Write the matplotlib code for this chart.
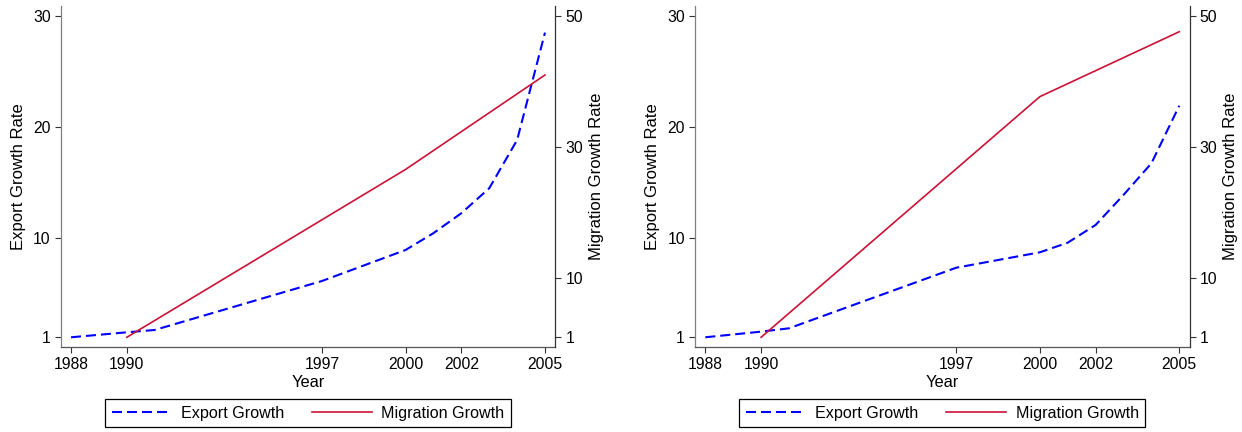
import matplotlib.pyplot as plt

plt.rcParams['font.family'] = ['Liberation Sans', 'DejaVu Sans']
plt.rcParams['font.size'] = 11

# export index by year, two samples
years = [1988, 1990, 1991, 1997, 2000, 2001, 2002, 2003, 2004, 2005]
export_a = [1.0, 1.45, 1.66, 6.08, 8.88, 10.4, 12.2, 14.45, 18.8, 28.5]
export_b = [1.0, 1.51, 1.81, 7.28, 8.67, 9.54, 11.14, 13.85, 16.7, 21.9]

# migration index, census years only
census_years = [1990, 2000, 2005]
migration_a = [1.0, 26.6, 41.0]
migration_b = [1.0, 37.7, 47.6]

year_ticks = [1988, 1990, 1997, 2000, 2002, 2005]
export_ticks = [1, 10, 20, 30]
migration_ticks = [1, 10, 30, 50]

BLUE = '#0000ff'
RED = '#cc1236'
EXP_LIM = (0.125, 30.9)


def to_migration_scale(v):
    # left axis 1..30 lines up with right axis 1..50
    return 1 + (v - 1) * 49.0 / 29.0


def draw_panel(ax, exports, migration):
    ax2 = ax.twinx()
    l1, = ax.plot(years, exports, color=BLUE, lw=1.5,
                  linestyle=(0, (4.8, 2.4)), label='Export Growth')
    l2, = ax2.plot(census_years, migration, color=RED, lw=1.2,
                   label='Migration Growth')

    ax.set_xlim(1987.63, 2005.37)
    ax.set_ylim(*EXP_LIM)
    ax2.set_ylim(to_migration_scale(EXP_LIM[0]), to_migration_scale(EXP_LIM[1]))

    ax.set_xticks(year_ticks)
    ax.set_yticks(export_ticks)
    ax2.set_yticks(migration_ticks)

    for a in (ax, ax2):
        a.spines['top'].set_visible(False)
        a.tick_params(length=4.3, width=0.8, color='#333333', pad=3,
                      labelsize=11.3)
    ax2.spines['left'].set_visible(False)
    ax2.spines['bottom'].set_visible(False)
    ax.spines['right'].set_visible(False)
    ax.spines['left'].set_color('#808080')
    ax.spines['bottom'].set_color('#555555')
    ax2.spines['right'].set_color('#333333')
    for s in ('left', 'bottom'):
        ax.spines[s].set_linewidth(0.9)
    ax2.spines['right'].set_linewidth(0.9)

    ax.set_xlabel('Year', labelpad=2, fontsize=11.8)
    ax.set_ylabel('Export Growth Rate', fontsize=12)
    ax2.set_ylabel('Migration Growth Rate', rotation=90, fontsize=12)
    ax.yaxis.set_label_coords(-0.0702, 0.5)
    ax2.yaxis.set_label_coords(1.068, 0.5)

    leg = ax.legend([l1, l2], ['Export Growth', 'Migration Growth'],
                    loc='upper center', bbox_to_anchor=(0.5, -0.152),
                    ncol=2, frameon=True, fancybox=False, framealpha=1,
                    edgecolor='black', fontsize=11.6, handlelength=3.75,
                    handletextpad=0.56, columnspacing=1.7, borderpad=0.42,
                    borderaxespad=0)
    leg.get_frame().set_linewidth(0.9)
    return ax2


fig = plt.figure(figsize=(12.42, 4.32), dpi=100)
ax_a = fig.add_axes([0.0489, 0.1968, 0.3982, 0.7893])
ax_b = fig.add_axes([0.5596, 0.1968, 0.3982, 0.7893])

draw_panel(ax_a, export_a, migration_a)
draw_panel(ax_b, export_b, migration_b)

fig.savefig('out.png', dpi=100)
